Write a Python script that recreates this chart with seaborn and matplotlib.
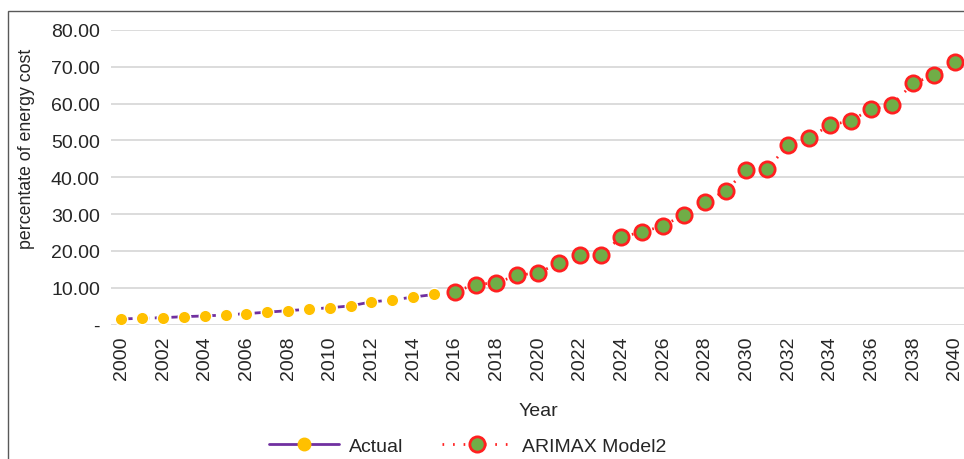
import matplotlib
matplotlib.use('Agg')
import matplotlib.pyplot as plt
from matplotlib.lines import Line2D
from matplotlib.patches import Rectangle
import seaborn as sns
import pandas as pd

# valores
anos_real = list(range(2000, 2016))
real = [1.55, 1.74, 1.9, 2.18, 2.37, 2.64, 3.0, 3.4, 3.8, 4.2, 4.6, 5.1, 6.2, 6.7, 7.5, 8.2]

anos_modelo = list(range(2016, 2041))
modelo = [9.0, 10.9, 11.4, 13.4, 14.1, 16.7, 18.8, 19.0, 23.8, 25.2, 26.8, 29.9, 33.2, 36.4,
          41.9, 42.2, 48.8, 50.8, 54.1, 55.4, 58.5, 59.7, 65.5, 67.7, 71.2]

y_ticks = [0, 10, 20, 30, 40, 50, 60, 70, 80]
y_labels = ['-', '10.00', '20.00', '30.00', '40.00', '50.00', '60.00', '70.00', '80.00']
x_ticks = list(range(2000, 2041, 2))

df_real = pd.DataFrame({'Year': anos_real, 'valor': real})
df_modelo = pd.DataFrame({'Year': anos_modelo, 'valor': modelo})

sns.set_theme(style='white')
plt.rcParams['font.family'] = ['Liberation Sans', 'DejaVu Sans']

roxo = '#7030A0'
amarelo = '#FFC000'
vermelho = '#FF2020'
verde = '#70AD47'
texto = '#262626'
fs = 14

fig = plt.figure(figsize=(9.64, 4.6), dpi=100)
ax = fig.add_axes([0.1152, 0.292, 0.886, 0.6407])

sns.lineplot(data=df_modelo, x='Year', y='valor', ax=ax, color=vermelho, linewidth=2,
             linestyle=(0, (0.6, 3.2)), marker='o', markersize=11, markerfacecolor=verde,
             markeredgecolor=vermelho, markeredgewidth=2)
sns.lineplot(data=df_real, x='Year', y='valor', ax=ax, color=roxo, linewidth=2,
             linestyle=(0, (4, 2)), marker='o', markersize=9, markerfacecolor=amarelo,
             markeredgecolor='white', markeredgewidth=1)

ax.set_xlim(1999.5, 2040.5)
ax.set_ylim(0, 80)
ax.set_yticks(y_ticks)
ax.set_yticklabels(y_labels)
ax.set_xticks(x_ticks)
ax.set_xticklabels([str(a) for a in x_ticks], rotation=90)
ax.tick_params(axis='both', length=0, labelsize=fs, labelcolor=texto)
ax.tick_params(axis='y', pad=8)
ax.tick_params(axis='x', pad=8)
ax.yaxis.grid(True, color='#d9d9d9', linewidth=1.3)
ax.set_axisbelow(True)
for s in ax.spines.values():
    s.set_visible(False)

ax.set_xlabel('Year', fontsize=fs, color=texto, labelpad=16)
ax.set_ylabel('percentate of energy cost', fontsize=12.8, color=texto)
ax.yaxis.set_label_coords(-0.089, 0.60)

h1 = Line2D([], [], color=roxo, linewidth=2, marker='o', markersize=9,
            markerfacecolor=amarelo, markeredgecolor=amarelo)
h2 = Line2D([], [], color=vermelho, linewidth=2, linestyle=(0, (0.6, 3.2)), marker='o',
            markersize=11, markerfacecolor=verde, markeredgecolor=vermelho, markeredgewidth=2)
fig.legend([h1, h2], ['Actual', 'ARIMAX Model2'], loc='center', bbox_to_anchor=(0.485, 0.028),
           ncol=2, frameon=False, fontsize=fs, handlelength=3.6, columnspacing=2.0,
           handletextpad=0.5, labelcolor=texto)

# moldura da area do grafico
fig.patches.append(Rectangle((8 / 964, -0.1), 1.2, 1 - 12 / 460 + 0.1, transform=fig.transFigure,
                             fill=False, edgecolor='#595959', linewidth=1))

plt.savefig('out.png', dpi=100)
